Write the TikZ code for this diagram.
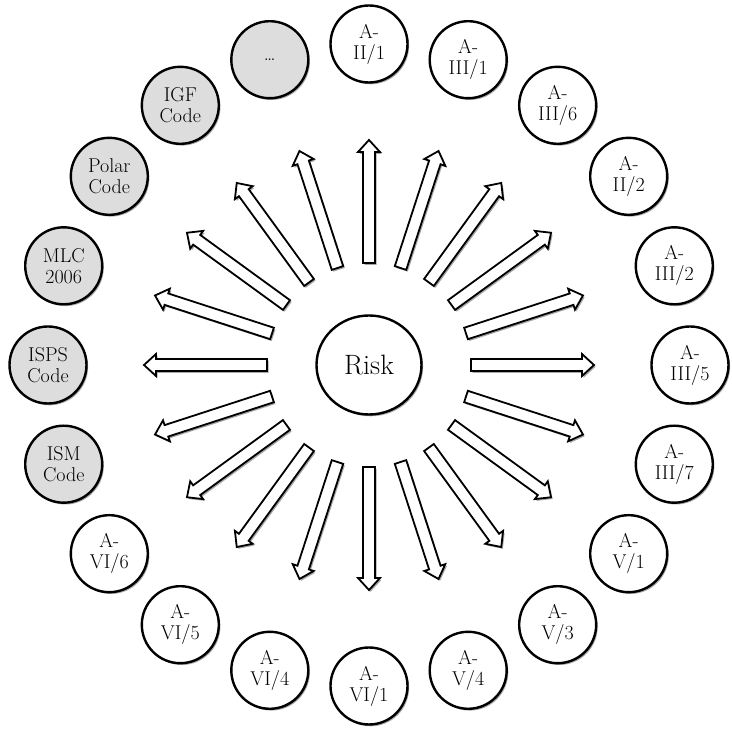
\documentclass[tikz,border=0pt]{standalone}
\usetikzlibrary{shadows,shapes.geometric,calc}
\begin{document}
\begin{tikzpicture}[x=1pt,y=1pt,
  shad/.style={drop shadow={shadow xshift=1.6pt,shadow yshift=-1.8pt,opacity=0.35,fill=black}},
  item/.style={circle,draw=black,line width=2.4pt,fill=white,minimum size=77pt,inner sep=0pt,align=center,font=\fontsize{20}{21}\selectfont,shad},
  grayitem/.style={item,fill=gray!27},
  riskc/.style={ellipse,draw=black,line width=2.4pt,fill=white,minimum width=105pt,minimum height=99pt,inner sep=0pt,font=\fontsize{28}{30}\selectfont,shad},
  blockarrow/.style={draw=black,line width=1.8pt,fill=white,line join=miter,shad}]
\useasboundingbox (0,0) rectangle (732,729);
\coordinate (c) at (369,364);
\node[riskc] (risk) at (c) {Risk};
% arrows from the centre outwards
\foreach \a in {0,18,...,342}{
  \draw[blockarrow,shift={(risk.center)},rotate=\a]
    (102,-6) -- (213,-6) -- (213,-11) -- (225,0) -- (213,11) -- (213,6) -- (102,6) -- cycle;
}
% outer ring
\node[item] (n0)  at ($(c)+(90:321)$)   {A-\\II/1};
\node[item] (n1)  at ($(c)+(72:321)$)   {A-\\III/1};
\node[item] (n2)  at ($(c)+(54:321)$)   {A-\\III/6};
\node[item] (n3)  at ($(c)+(36:321)$)   {A-\\II/2};
\node[item] (n4)  at ($(c)+(18:321)$)   {A-\\III/2};
\node[item] (n5)  at ($(c)+(0:321)$)    {A-\\III/5};
\node[item] (n6)  at ($(c)+(-18:321)$)  {A-\\III/7};
\node[item] (n7)  at ($(c)+(-36:321)$)  {A-\\V/1};
\node[item] (n8)  at ($(c)+(-54:321)$)  {A-\\V/3};
\node[item] (n9)  at ($(c)+(-72:321)$)  {A-\\V/4};
\node[item] (n10) at ($(c)+(-90:321)$)  {A-\\VI/1};
\node[item] (n11) at ($(c)+(-108:321)$) {A-\\VI/4};
\node[item] (n12) at ($(c)+(-126:321)$) {A-\\VI/5};
\node[item] (n13) at ($(c)+(-144:321)$) {A-\\VI/6};
\node[grayitem] (n14) at ($(c)+(-162:321)$) {ISM\\Code};
\node[grayitem] (n15) at ($(c)+(180:321)$)  {ISPS\\Code};
\node[grayitem] (n16) at ($(c)+(162:321)$)  {MLC\\2006};
\node[grayitem] (n17) at ($(c)+(144:321)$)  {Polar\\Code};
\node[grayitem] (n18) at ($(c)+(126:321)$)  {IGF\\Code};
\node[grayitem] (n19) at ($(c)+(108:321)$)  {\dots};
\end{tikzpicture}
\end{document}
